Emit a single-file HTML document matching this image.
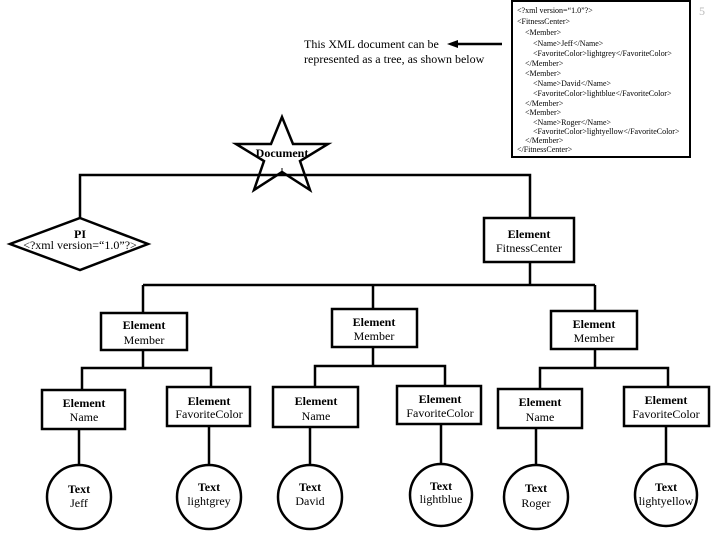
<!DOCTYPE html>
<html><head><meta charset="utf-8"><style>
body{margin:0;background:#fff;}
svg text{font-family:"Liberation Serif",serif;fill:#000;}
</style></head><body>
<svg width="720" height="540" viewBox="0 0 720 540" xmlns="http://www.w3.org/2000/svg">
<g stroke="#000" stroke-width="2.5" fill="#fff">
<polygon points="282,117 293,144 328,144 300,161 310,190 282,172 254,190 264,161 236,144 271,144"/>
</g>
<g stroke="#000" stroke-width="2.5" fill="none">
<polyline points="80,218 80,175 530,175 530,218"/>
<polyline points="530,262 530,285"/>
<line x1="143" y1="285" x2="595" y2="285"/>
<line x1="143" y1="285" x2="143" y2="313"/>
<line x1="373" y1="285" x2="373" y2="309"/>
<line x1="595" y1="285" x2="595" y2="311"/>
<line x1="143" y1="350" x2="143" y2="368"/>
<polyline points="82,390 82,368 211,368 211,387"/>
<line x1="373" y1="347" x2="373" y2="366"/>
<polyline points="315,387 315,366 445,366 445,386"/>
<line x1="595" y1="349" x2="595" y2="368"/>
<polyline points="540,389 540,368 668,368 668,387"/>
<line x1="79" y1="429" x2="79" y2="465"/>
<line x1="209" y1="426" x2="209" y2="466"/>
<line x1="310" y1="427" x2="310" y2="465"/>
<line x1="441" y1="424" x2="441" y2="464"/>
<line x1="536" y1="428" x2="536" y2="465"/>
<line x1="666" y1="426" x2="666" y2="464"/>
</g>
<g stroke="#000" stroke-width="2.5" fill="#fff">
<polygon points="80,218 148,244 80,270 10,244"/>
<rect x="484" y="218" width="90" height="44"/>
<rect x="101" y="313" width="86" height="37"/>
<rect x="332" y="309" width="85" height="38"/>
<rect x="551" y="311" width="86" height="38"/>
<rect x="42" y="390" width="83" height="39"/>
<rect x="167" y="387" width="83" height="39"/>
<rect x="273" y="387" width="85" height="40"/>
<rect x="397" y="386" width="84" height="38"/>
<rect x="498" y="389" width="84" height="39"/>
<rect x="624" y="387" width="85" height="39"/>
<circle cx="79" cy="497" r="32"/>
<circle cx="209" cy="497" r="32"/>
<circle cx="310" cy="497" r="32"/>
<circle cx="441" cy="495" r="31"/>
<circle cx="536" cy="497" r="32"/>
<circle cx="666" cy="495" r="31"/>
<rect x="512" y="1" width="178" height="156" stroke-width="2"/>
</g>
<line x1="282" y1="168" x2="282" y2="176" stroke="#000" stroke-width="1"/>
<line x1="502" y1="44" x2="455" y2="44" stroke="#000" stroke-width="2.5"/>
<polygon points="447,44 458,40 458,48" fill="#000"/>
<g font-size="12">
<text x="304" y="48">This XML document can be</text>
<text x="304" y="63">represented as a tree, as shown below</text>
</g>
<g font-size="12" text-anchor="middle">
<text x="282" y="157" font-weight="bold">Document</text>
<text x="80" y="238" font-weight="bold">PI</text>
<text x="80" y="249">&lt;?xml version=“1.0”?&gt;</text>
<text x="529" y="238" font-weight="bold">Element</text>
<text x="529" y="252">FitnessCenter</text>
<text x="144" y="329" font-weight="bold">Element</text>
<text x="144" y="344">Member</text>
<text x="374" y="326" font-weight="bold">Element</text>
<text x="374" y="340">Member</text>
<text x="594" y="328" font-weight="bold">Element</text>
<text x="594" y="342">Member</text>
<g font-weight="bold">
<text x="84" y="407">Element</text>
<text x="209" y="405">Element</text>
<text x="316" y="405">Element</text>
<text x="440" y="403">Element</text>
<text x="540" y="406">Element</text>
<text x="666" y="404">Element</text>
<text x="79" y="493">Text</text>
<text x="209" y="491">Text</text>
<text x="310" y="491">Text</text>
<text x="441" y="490">Text</text>
<text x="536" y="492">Text</text>
<text x="666" y="491">Text</text>
</g>
<text x="84" y="421">Name</text>
<text x="209" y="418">FavoriteColor</text>
<text x="316" y="420">Name</text>
<text x="440" y="417">FavoriteColor</text>
<text x="540" y="421">Name</text>
<text x="666" y="418">FavoriteColor</text>
<text x="79" y="507">Jeff</text>
<text x="209" y="505">lightgrey</text>
<text x="310" y="505">David</text>
<text x="441" y="503">lightblue</text>
<text x="536" y="507">Roger</text>
<text x="666" y="505">lightyellow</text>
</g>
<g font-size="8">
<text x="517" y="13">&lt;?xml version=“1.0”?&gt;</text>
<text x="517" y="24">&lt;FitnessCenter&gt;</text>
<text x="525" y="35">&lt;Member&gt;</text>
<text x="533" y="46">&lt;Name&gt;Jeff&lt;/Name&gt;</text>
<text x="533" y="56">&lt;FavoriteColor&gt;lightgrey&lt;/FavoriteColor&gt;</text>
<text x="525" y="66">&lt;/Member&gt;</text>
<text x="525" y="76">&lt;Member&gt;</text>
<text x="533" y="86">&lt;Name&gt;David&lt;/Name&gt;</text>
<text x="533" y="96">&lt;FavoriteColor&gt;lightblue&lt;/FavoriteColor&gt;</text>
<text x="525" y="106">&lt;/Member&gt;</text>
<text x="525" y="115">&lt;Member&gt;</text>
<text x="533" y="125">&lt;Name&gt;Roger&lt;/Name&gt;</text>
<text x="533" y="134">&lt;FavoriteColor&gt;lightyellow&lt;/FavoriteColor&gt;</text>
<text x="525" y="143">&lt;/Member&gt;</text>
<text x="517" y="152">&lt;/FitnessCenter&gt;</text>
</g>
<text x="699" y="15" font-size="12" style="fill:#bbb">5</text>
</svg>
</body></html>
